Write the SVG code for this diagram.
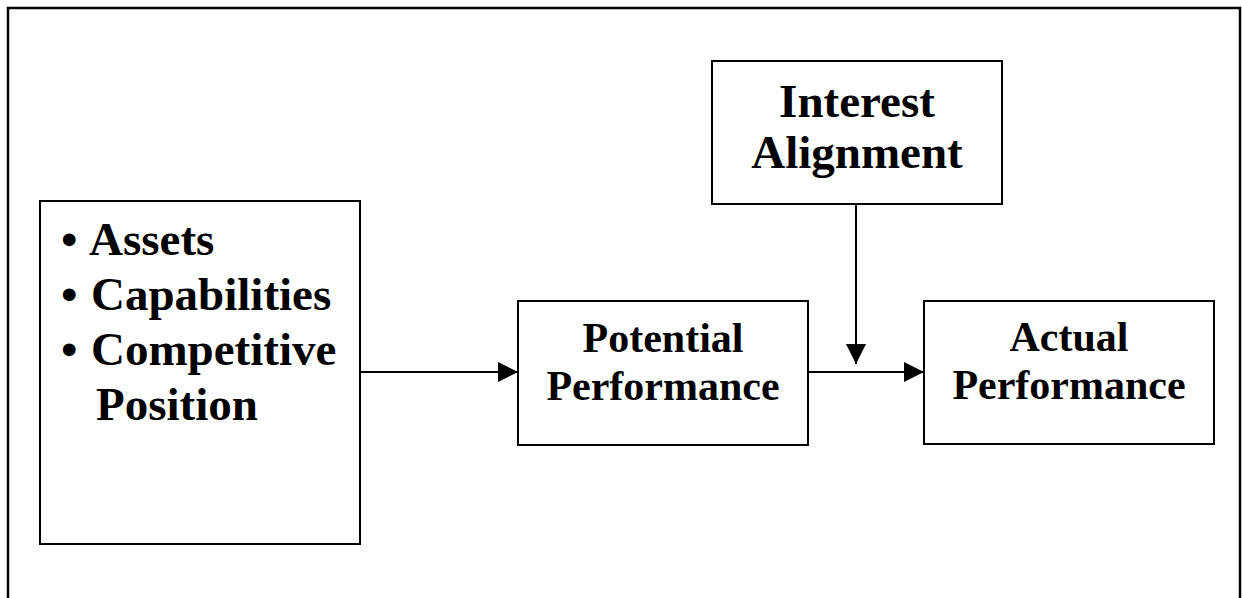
<svg xmlns="http://www.w3.org/2000/svg" width="1242" height="598" viewBox="0 0 1242 598">
<defs>
<style>
.box{fill:#fff;stroke:#000;stroke-width:2}
.t{font-family:"Liberation Serif","Times New Roman",serif;font-weight:bold;fill:#000}
.c{text-anchor:middle}
.ln{stroke:#000;stroke-width:2;fill:none}
</style>
<marker id="ah" markerWidth="20" markerHeight="20" viewBox="0 0 20 20" refX="20" refY="10" orient="auto" markerUnits="userSpaceOnUse">
<path d="M0,0 L20,10 L0,20 Z" fill="#000"/>
</marker>
</defs>
<rect width="1242" height="598" fill="#fff"/>
<path d="M8,600 V8 H1240 V600" fill="none" stroke="#000" stroke-width="2.5"/>
<g id="connectors">
<line class="ln" x1="360" y1="372" x2="518" y2="372" marker-end="url(#ah)"/>
<line class="ln" x1="808" y1="372" x2="924" y2="372" marker-end="url(#ah)"/>
<line class="ln" x1="856" y1="204" x2="856" y2="364" marker-end="url(#ah)"/>
</g>
<g id="node-left">
<rect class="box" x="40" y="201" width="320" height="343"/>
<text class="t" font-size="47"><tspan x="61" y="255">•</tspan><tspan x="89" y="255">Assets</tspan></text>
<text class="t" font-size="47"><tspan x="61" y="310">•</tspan><tspan x="91" y="310">Capabilities</tspan></text>
<text class="t" font-size="47"><tspan x="61" y="365">•</tspan><tspan x="91" y="365">Competitive</tspan></text>
<text class="t" font-size="47" x="96" y="420">Position</text>
</g>
<g id="node-potential">
<rect class="box" x="518" y="301" width="290" height="144"/>
<text class="t c" font-size="42" x="663" y="352">Potential</text>
<text class="t c" font-size="42" x="663" y="400">Performance</text>
</g>
<g id="node-interest">
<rect class="box" x="712" y="61" width="290" height="143"/>
<text class="t c" font-size="47" x="857" y="117">Interest</text>
<text class="t c" font-size="47" x="857" y="168">Alignment</text>
</g>
<g id="node-actual">
<rect class="box" x="924" y="301" width="290" height="143"/>
<text class="t c" font-size="42" x="1069" y="351">Actual</text>
<text class="t c" font-size="42" x="1069" y="399">Performance</text>
</g>
</svg>
